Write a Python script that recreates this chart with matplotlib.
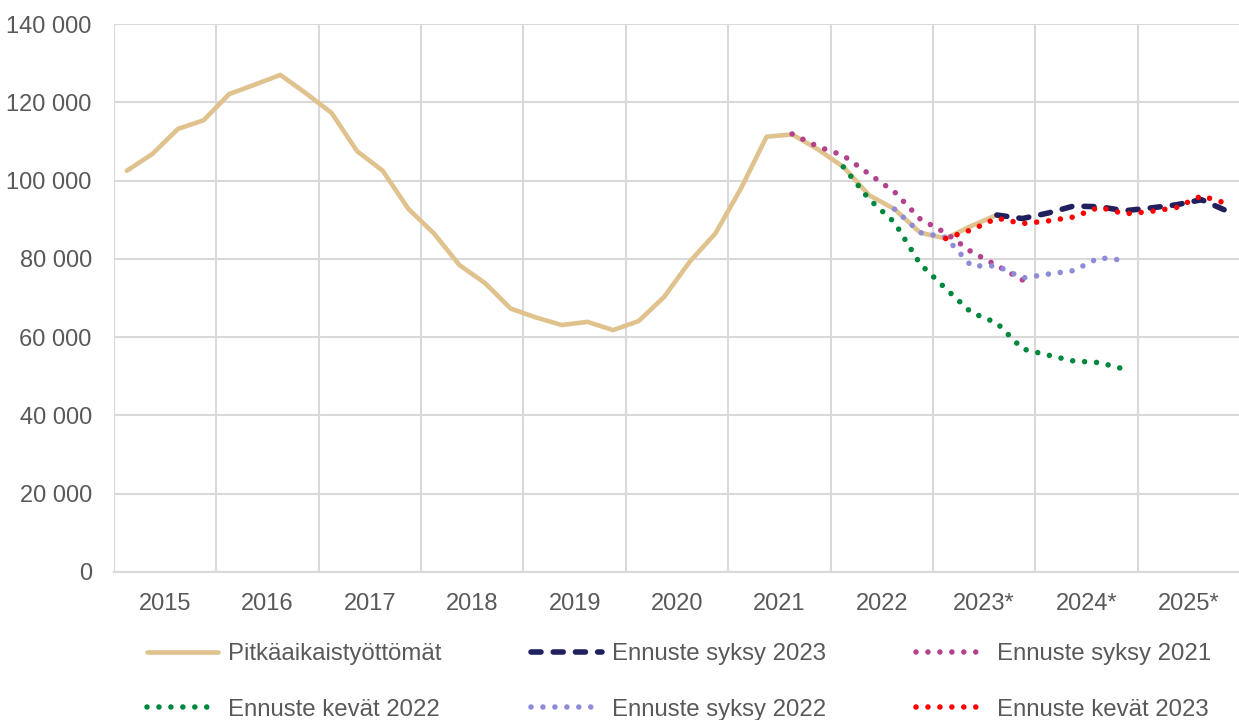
import numpy as np
import matplotlib
matplotlib.use('Agg')
from matplotlib import pyplot as plt
from matplotlib.ticker import FixedLocator, FuncFormatter

plt.rcParams['font.family'] = ['Liberation Sans', 'DejaVu Sans']

# quarterly series, index 0 = 2015 Q1
years = ['2015', '2016', '2017', '2018', '2019', '2020', '2021', '2022', '2023*', '2024*', '2025*']

pitka = [102500, 106800, 113200, 115400, 122100, 124500, 127000, 122300, 117300, 107500,
         102500, 92800, 86500, 78400, 73800, 67300, 65000, 63100, 63900, 61800,
         64100, 70300, 79300, 86500, 98000, 111200, 111800, 108000, 103500, 96300,
         92700, 86700, 85200, 88400, 91200]
pitka_start = 0

syksy_2023 = [91200, 90300, 91700, 93500, 93300, 92300, 93000, 93800, 95100, 92200]
syksy_2023_start = 34

syksy_2021 = [111900, 108700, 106400, 101700, 97100, 90200, 86600, 81800, 78300, 74600]
syksy_2021_start = 26

kevat_2022 = [103500, 95300, 89300, 78700, 72400, 66300, 63600, 57000, 55400, 53900, 53500, 51800]
kevat_2022_start = 28

syksy_2022 = [92700, 86700, 85500, 78200, 78200, 75100, 76100, 77000, 80300, 79600]
syksy_2022_start = 30

kevat_2023 = [85200, 87400, 90400, 89000, 89700, 90700, 93200, 91500, 92100, 93100, 96100, 94100]
kevat_2023_start = 32

text_col = '#595959'
grid_col = '#d9d9d9'


def quarter_x(start, n):
    idx = np.arange(start, start + n)
    return 2015 + (idx + 0.5) / 4


fig = plt.figure(figsize=(12.39, 7.2), dpi=100)
ax = fig.add_axes([114 / 1239, 148 / 720, 1126 / 1239, 548 / 720])

dotted = (0, (0.001, 2.15))
dashed = (0, (1.8, 2.2))

h_pitka, = ax.plot(quarter_x(pitka_start, len(pitka)), pitka, color='#dfc28d', linewidth=3.3,
                   solid_capstyle='round', solid_joinstyle='round', label='Pitkäaikaistyöttömät')
h_s23, = ax.plot(quarter_x(syksy_2023_start, len(syksy_2023)), syksy_2023, color='#20205e',
                 linewidth=4, linestyle=dashed, dash_capstyle='round', label='Ennuste syksy 2023')
h_s21, = ax.plot(quarter_x(syksy_2021_start, len(syksy_2021)), syksy_2021, color='#b4418e',
                 linewidth=4, linestyle=dotted, dash_capstyle='round', label='Ennuste syksy 2021')
h_k22, = ax.plot(quarter_x(kevat_2022_start, len(kevat_2022)), kevat_2022, color='#00873e',
                 linewidth=4, linestyle=dotted, dash_capstyle='round', label='Ennuste kevät 2022')
h_s22, = ax.plot(quarter_x(syksy_2022_start, len(syksy_2022)), syksy_2022, color='#8e8cd8',
                 linewidth=4, linestyle=dotted, dash_capstyle='round', label='Ennuste syksy 2022')
h_k23, = ax.plot(quarter_x(kevat_2023_start, len(kevat_2023)), kevat_2023, color='#ff0000',
                 linewidth=4, linestyle=dotted, dash_capstyle='round', label='Ennuste kevät 2023')

ax.set_xlim(2015, 2026)
ax.set_ylim(0, 140000)

# year boundaries as gridlines, labels in the middle of each year
ax.xaxis.set_major_locator(FixedLocator(np.arange(2015, 2026)))
ax.xaxis.set_major_formatter(FuncFormatter(lambda v, p: ''))
ax.set_xticks(np.arange(2015, 2026) + 0.5, minor=True)
ax.set_xticklabels(years, minor=True)
ax.set_yticks(np.arange(0, 140001, 20000))
ax.yaxis.set_major_formatter(FuncFormatter(lambda v, p: f'{int(v):,}'.replace(',', ' ')))

ax.tick_params(axis='both', which='both', length=0, labelsize=17, labelcolor=text_col)
ax.tick_params(axis='x', which='minor', pad=15)
ax.tick_params(axis='y', pad=16)
ax.grid(True, which='major', color=grid_col, linewidth=1.5)
ax.set_axisbelow(True)
for side in ['top', 'right', 'left']:
    ax.spines[side].set_visible(False)
ax.spines['bottom'].set_color(grid_col)
ax.spines['bottom'].set_linewidth(1.5)

# legend is filled column by column, so reorder to get the row layout
handles = [h_pitka, h_k22, h_s23, h_s22, h_s21, h_k23]
fig.legend(handles=handles, labels=[h.get_label() for h in handles], ncol=3,
           loc='upper left', bbox_to_anchor=(147 / 1239, 1 - 643 / 720), frameon=False,
           fontsize=17.3, labelcolor=text_col, handlelength=2.95, handletextpad=0.42,
           columnspacing=3.74, labelspacing=1.4, borderpad=0, borderaxespad=0)

fig.savefig('out.png', dpi=100)
plt.close()
